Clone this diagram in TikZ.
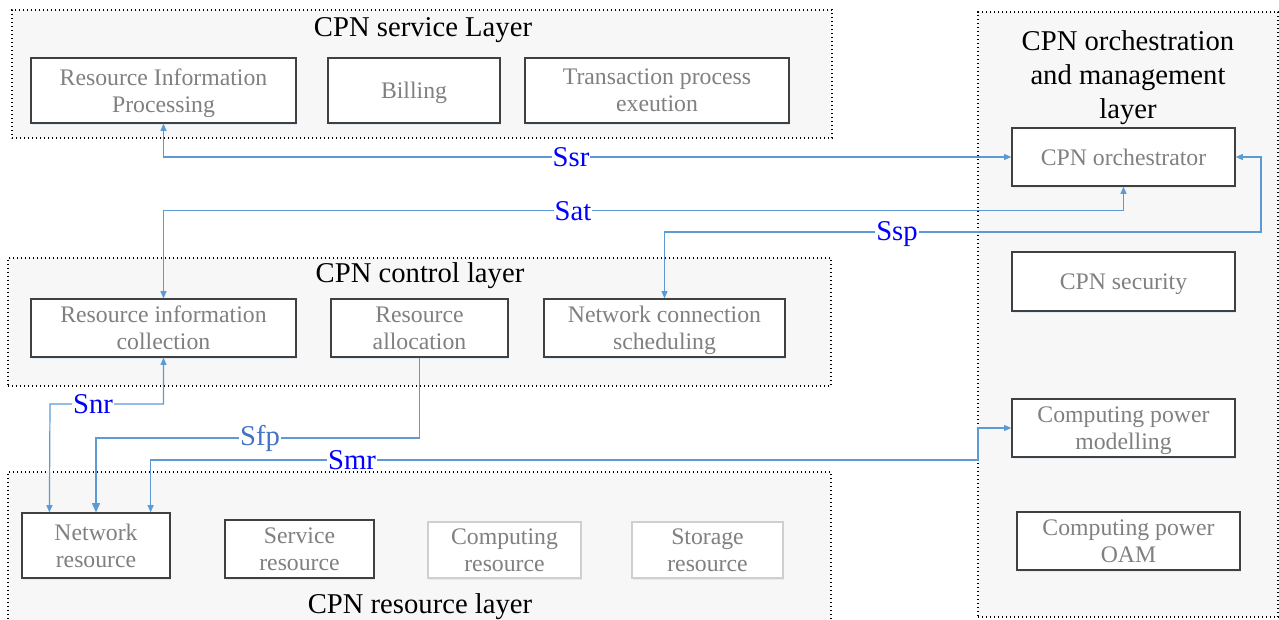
\documentclass[tikz,border=0pt]{standalone}
\usepackage{fontspec}
\setmainfont{Liberation Serif}
\usetikzlibrary{arrows.meta,calc,shadows}
\definecolor{conncol}{HTML}{5B9BD5}
\definecolor{lblblue}{HTML}{0000FF}
\definecolor{sfpcol}{HTML}{4472C4}
\definecolor{boxtext}{HTML}{808080}
\definecolor{boxedge}{HTML}{404040}
\definecolor{lightedge}{HTML}{CFCFCF}
\definecolor{layerfill}{HTML}{F7F7F7}
\begin{document}
\begin{tikzpicture}[x=0.75pt,y=-0.75pt,
  sz/.style n args={2}{minimum width={#1*0.75pt}, minimum height={#2*0.75pt}},
  layer/.style={draw=black, fill=layerfill, line width=0.8pt, dash pattern=on 1.1pt off 1.9pt, inner sep=0pt},
  bx/.style={draw=boxedge, fill=white, line width=0.9pt, text=boxtext, align=center, inner sep=0pt,
     text depth=0pt,
     font=\fontsize{17.8}{20.3}\selectfont,
     drop shadow={shadow xshift=0.8pt, shadow yshift=-1.6pt, fill=conncol!40, opacity=0.35}},
  lbx/.style={bx, draw=lightedge},
  ttl/.style={text=black, align=center, inner sep=0pt, font=\fontsize{21.5}{25.5}\selectfont},
  conn/.style={draw=conncol, line width=0.9pt, {Triangle[length=5.5pt,width=4.5pt]}-{Triangle[length=5.5pt,width=4.5pt]}},
  lbl/.style={fill=white, text=lblblue, inner sep=0.8pt, font=\fontsize{21.5}{24}\selectfont}
]
\useasboundingbox (0,0) rectangle (1279,619);

% layers
\node[layer, sz={820}{128}] (lserv) at (422,74) {};
\node[layer, sz={823}{128}] (lctrl) at (419.5,322) {};
\node[layer, sz={823}{160}] (lres) at (419.5,552) {};
\node[layer, sz={300}{605}] (lorch) at (1128,314.5) {};

% titles
\node[ttl] (tserv) at (423,30) {CPN service Layer};
\node[ttl] (tctrl) at (420,276) {CPN control layer};
\node[ttl] (tres) at (420,607) {CPN resource layer};
\node[ttl] (torch) at (1128,77.5) {CPN orchestration\\and management\\layer};

% service layer boxes
\node[bx, sz={265}{65}] (rip) at (163.5,90.5) {Resource Information\\Processing};
\node[bx, sz={172}{65}] (bill) at (414,90.5) {Billing};
\node[bx, sz={264}{65}] (trans) at (657,90.5) {Transaction process\\exeution};

% orchestration boxes
\node[bx, sz={223}{58}] (orch) at (1123.5,157) {CPN orchestrator};
\node[bx, sz={223}{59}] (sec) at (1123.5,281.5) {CPN security};
\node[bx, sz={223}{58}] (cpm) at (1123.5,428) {Computing power\\modelling};
\node[bx, sz={223}{58}] (oam) at (1128.5,541) {Computing power\\OAM};

% control layer boxes
\node[bx, sz={265}{58}] (ric) at (163.5,328) {Resource information\\collection};
\node[bx, sz={177}{58}] (ra) at (419.5,328) {Resource\\allocation};
\node[bx, sz={241}{58}] (ncs) at (664.5,328) {Network connection\\scheduling};

% resource layer boxes
\node[bx, sz={148}{65}] (net) at (96,545.5) {Network\\resource};
\node[bx, sz={149}{58}] (svc) at (299.5,549) {Service\\resource};
\node[lbx, sz={153}{56}] (cmp) at (504.5,550) {Computing\\resource};
\node[lbx, sz={151}{56}] (sto) at (707.5,550) {Storage\\resource};

% connectors
\coordinate (sspturn) at (1261,232);
\coordinate (smrturn) at (978,460);
\draw[conn] (rip.south) |- (orch.west);
\draw[conn] (ric.north) -- ++(0,-88) -| (orch.south);
\draw[conn] (ncs.north) |- (sspturn) |- (orch.east);
\draw[conn] (ric.south) |- (50,404) -- ($(net.north west)+(28,0)$);
\draw[conn, -{Triangle[length=7pt,width=6pt]}] (ra.south) |- (96,438) -- (net.north);
\draw[conn] (cpm.west) -| (smrturn) -| ($(net.north east)+(-20,0)$);

% labels
\node[lbl] (lssr) at (571,157) {Ssr};
\node[lbl] (lsat) at (573,211) {Sat};
\node[lbl] (lssp) at (897,234) {Ssp};
\node[lbl] (lsnr) at (93,404) {Snr};
\node[lbl, text=sfpcol] (lsfp) at (260,438) {Sfp};
\node[lbl] (lsmr) at (352,460) {Smr};
\end{tikzpicture}
\end{document}
